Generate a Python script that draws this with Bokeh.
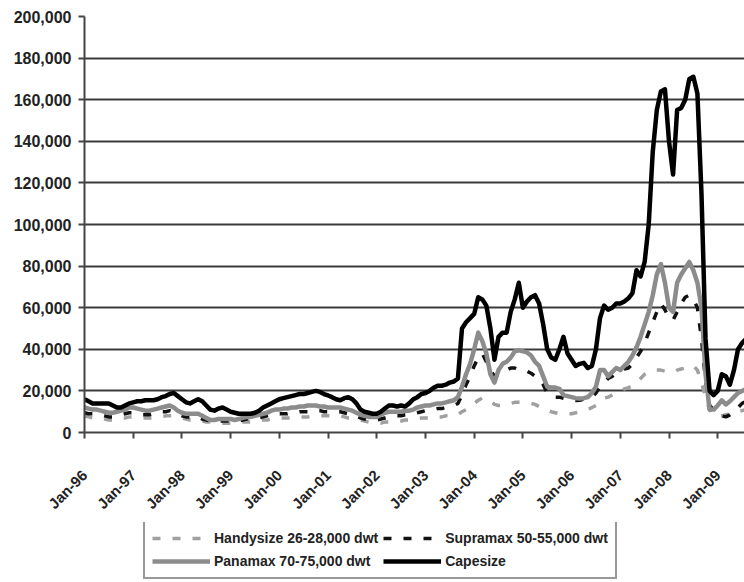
from math import pi
from bokeh.plotting import figure
from bokeh.layouts import column
from bokeh.models import Range1d, FixedTicker, NumeralTickFormatter, Legend, LegendItem
from bokeh.embed import file_html
from bokeh.resources import INLINE

tick_labels = ["Jan-96", "Jan-97", "Jan-98", "Jan-99", "Jan-00", "Jan-01", "Jan-02",
               "Jan-03", "Jan-04", "Jan-05", "Jan-06", "Jan-07", "Jan-08", "Jan-09"]

# monthly values, thousand $/day, Jan-96 onwards
capesize_k = [
    16, 15, 14, 14, 14, 14, 14, 13, 12, 12, 13, 14,                 # 1996
    14.5, 15, 15, 15.5, 15.5, 15.5, 16, 17, 17.5, 18.5, 19, 17.5,   # 1997
    16, 14.5, 14, 15, 16, 15, 13, 11, 10.5, 11.5, 12, 11,           # 1998
    10, 9.5, 9, 9, 9, 9, 9.5, 10.5, 12, 13, 14, 15,                 # 1999
    16, 16.5, 17, 17.5, 18, 18.5, 18.5, 19, 19.5, 20, 19.5, 18.5,   # 2000
    17.8, 17, 16, 15.5, 16.5, 17, 16, 14, 11, 10, 9.5, 9,           # 2001
    9, 10, 11.5, 13, 13, 12.5, 13, 12.5, 14, 16, 17, 18.5,          # 2002
    19, 20, 21.5, 22.5, 22.5, 23, 24, 24.5, 26, 50, 53, 55,         # 2003
    57, 65, 64, 61, 50, 35, 46, 48, 48, 58, 64, 72,                 # 2004
    60, 63, 65, 66, 62, 52, 40, 36, 35, 40, 46, 38,                 # 2005
    35, 32, 33, 33.5, 31, 32, 40, 55, 61, 59, 60, 62,               # 2006
    62, 63, 64.5, 67, 78, 75, 82, 100, 135, 155, 164, 165,          # 2007
    140, 124, 155, 156, 160, 170, 171, 163, 115, 45, 20, 18,        # 2008
    20, 28, 27, 23, 30, 40, 43, 45,                                 # 2009
]
panamax_k = [
    12, 11.5, 11, 11, 10.5, 10, 9.5, 9.5, 10, 10.5, 11, 12,
    12, 11.5, 11, 10.5, 10.5, 11, 11.5, 12, 12.5, 13, 12, 10.5,
    9.5, 9, 9, 9, 9, 8, 7, 6, 6, 6.5, 6.5, 6.5,
    6.5, 6, 6.5, 7, 7.5, 7.5, 8, 8.5, 9, 9.5, 10.5, 11,
    11, 11.5, 11.5, 12, 12, 12.5, 12.5, 13, 13, 13, 12.5, 12.5,
    12, 12, 12, 12, 11.5, 11, 10.5, 9.5, 8.5, 8, 7.5, 7.5,
    7.5, 8.5, 9.5, 10, 10, 10, 10, 10.5, 10.5, 11, 12, 12.5,
    13, 13, 13.5, 14, 14, 14.5, 15, 15.5, 17, 22, 28, 33,
    40, 48, 44, 38, 28, 24, 30, 33, 34, 36, 39, 39.5,
    39, 38.5, 37, 34, 32, 27, 22, 21.6, 21.6, 21, 18, 17.5,
    17, 16.5, 16.3, 16.5, 17, 19, 22, 30, 30, 27, 29, 31,
    30, 32, 34, 37, 41, 46, 52, 58, 66, 76, 81, 72,
    60, 58, 72, 76, 79, 82, 78, 72, 60, 28, 11, 11,
    13, 15.5, 13.5, 15, 17, 19, 20, 21,
]
supramax_k = [
    9.5, 9, 9, 9, 8.5, 8, 7.5, 7.5, 8, 8.5, 9, 9.5,
    9.5, 9, 8.5, 8.5, 8.5, 9, 9.5, 10, 10, 10.5, 10, 9,
    8, 7.5, 7.5, 7.5, 7.5, 6.5, 6, 5.5, 5.5, 5.5, 5.5, 5.5,
    5.5, 5.5, 5.5, 6, 6.5, 6.5, 7, 7, 7.5, 8, 8.5, 9,
    9, 9, 9, 9.5, 9.5, 10, 10, 10, 10.5, 10.5, 10.5, 10,
    10, 10, 10, 10, 9.5, 9, 8.5, 8, 7, 6.5, 6, 6,
    6, 6.5, 7, 7.5, 8, 8, 8, 8.5, 8.5, 9, 9.5, 10,
    10.5, 10.5, 11, 11.5, 11.5, 12, 12.5, 13, 14, 18, 23, 27,
    32, 36, 38, 34, 30, 27, 28, 29, 30, 31, 31, 30,
    30, 29.5, 28.5, 27, 26, 23, 19, 17.5, 17, 17, 16.5, 16,
    15.5, 15.4, 15.5, 16, 16.5, 17, 19, 22, 24, 26, 27, 28.5,
    29.5, 30.5, 31, 33, 36, 39, 43, 48, 53, 58, 62, 59,
    55, 54, 58, 62, 65, 66, 64, 60, 45, 25, 13, 11,
    9, 8, 7.5, 8.5, 10, 12, 14, 15,
]
handysize_k = [
    8, 7.5, 7, 7, 7, 6.5, 6, 6, 6.5, 7, 7, 7.5,
    7.5, 7.5, 7, 7, 7, 7, 7.5, 7.5, 8, 8, 8, 7.5,
    7, 6.5, 6, 6, 6, 5.5, 5, 5, 4.5, 4.5, 4.5, 4.5,
    4.5, 4.5, 4.5, 5, 5, 5, 5.5, 5.5, 6, 6, 6.5, 6.5,
    7, 7, 7, 7, 7.5, 7.5, 7.5, 7.5, 8, 8, 8, 8,
    8, 8, 8, 8, 7.5, 7, 7, 6.5, 6, 5.5, 5, 5,
    4.5, 4.5, 5, 5, 5.5, 5.5, 5.5, 6, 6, 6, 6.5, 7,
    7, 7, 7.5, 7.5, 7.5, 8, 8, 8, 8.5, 10, 11, 12,
    14, 15.5, 16.5, 16.3, 15, 13.5, 13, 13, 13.5, 14, 14.5, 14.6,
    14.5, 14.5, 14, 13.5, 12.5, 11.5, 10.6, 10, 9.5, 9, 9, 9,
    9, 9.5, 10, 10.5, 11, 12, 13, 15, 16.5, 17, 18, 19,
    20, 21, 21.6, 22.5, 24, 26, 28, 29, 30, 30, 30, 29.5,
    29, 29, 30, 30.5, 31, 32, 32, 30, 24, 17, 11, 8,
    8, 8, 8.5, 9, 9.5, 10, 10.5, 11,
]

months = list(range(len(capesize_k)))
def usd(vals):
    return [v * 1000 for v in vals]

FONT = "Liberation Sans"
STYLES = {
    "Handysize 26-28,000 dwt": dict(line_color="#a0a0a0", line_width=3.5, line_dash="8 12"),
    "Supramax 50-55,000 dwt": dict(line_color="#111111", line_width=3.5, line_dash="8 12"),
    "Panamax 70-75,000 dwt": dict(line_color="#8c8c8c", line_width=4.5, line_join="round"),
    "Capesize": dict(line_color="#000000", line_width=4.5, line_join="round"),
}
series = {
    "Handysize 26-28,000 dwt": handysize_k,
    "Supramax 50-55,000 dwt": supramax_k,
    "Panamax 70-75,000 dwt": panamax_k,
    "Capesize": capesize_k,
}

p = figure(frame_width=660, frame_height=416, output_backend="svg", toolbar_location=None,
           x_range=Range1d(0, 162.6), y_range=Range1d(0, 200000),
           min_border_left=84, min_border_right=0, min_border_top=16, min_border_bottom=90)
p.outline_line_color = None
p.background_fill_color = "white"
p.border_fill_color = "white"

p.xgrid.grid_line_color = None
p.ygrid.grid_line_color = "#3a3a3a"
p.ygrid.grid_line_width = 2
p.ygrid.ticker = FixedTicker(ticks=list(range(0, 200001, 20000)))

p.yaxis.ticker = FixedTicker(ticks=list(range(0, 200001, 20000)))
p.yaxis.formatter = NumeralTickFormatter(format="0,0")
p.xaxis.ticker = FixedTicker(ticks=[12 * i for i in range(len(tick_labels))])
p.xaxis.major_label_overrides = {12 * i: lab for i, lab in enumerate(tick_labels)}
p.xaxis.major_label_orientation = pi / 4
for ax in (p.xaxis, p.yaxis):
    ax.axis_line_color = "#444444"
    ax.axis_line_width = 2
    ax.major_tick_line_color = "#444444"
    ax.major_tick_line_width = 2
    ax.major_tick_out = 6
    ax.major_tick_in = 0
    ax.minor_tick_line_color = None
    ax.major_label_text_font = FONT
    ax.major_label_text_font_style = "bold"
    ax.major_label_text_color = "#222222"
p.yaxis.major_label_text_font_size = "16px"
p.xaxis.major_label_text_font_size = "15px"
p.yaxis.major_label_standoff = 7
p.xaxis.major_label_standoff = 34

for name, vals in series.items():
    p.line(months, usd(vals), **STYLES[name])

# legend strip below the chart (its frame is aligned with the chart's frame)
q = figure(width=744, height=60, output_backend="svg", toolbar_location=None,
           x_range=Range1d(0, 1), y_range=Range1d(0, 1),
           x_axis_location=None, y_axis_location=None, min_border=0)
q.outline_line_color = None
q.xgrid.grid_line_color = None
q.ygrid.grid_line_color = None
order = ["Handysize 26-28,000 dwt", "Supramax 50-55,000 dwt", "Panamax 70-75,000 dwt", "Capesize"]
items = []
for name in order:
    r = q.line([-5, -4], [-5, -5], **STYLES[name])
    items.append(LegendItem(label=name, renderers=[r]))
legend = Legend(items=items, orientation="horizontal", ncols=2, location=(59, 3))
legend.label_text_font = FONT
legend.label_text_font_style = "bold"
legend.label_text_font_size = "14px"
legend.label_text_color = "#222222"
legend.glyph_width = 58
legend.glyph_height = 18
legend.label_standoff = 4
legend.label_height = 18
legend.spacing = 5
legend.padding = 7
legend.margin = 0
legend.border_line_color = "#333333"
legend.border_line_width = 2
legend.background_fill_color = "white"
legend.background_fill_alpha = 1
q.add_layout(legend, "center")

layout = column(p, q, spacing=0)
open("out.html", "w").write(file_html(layout, INLINE))
